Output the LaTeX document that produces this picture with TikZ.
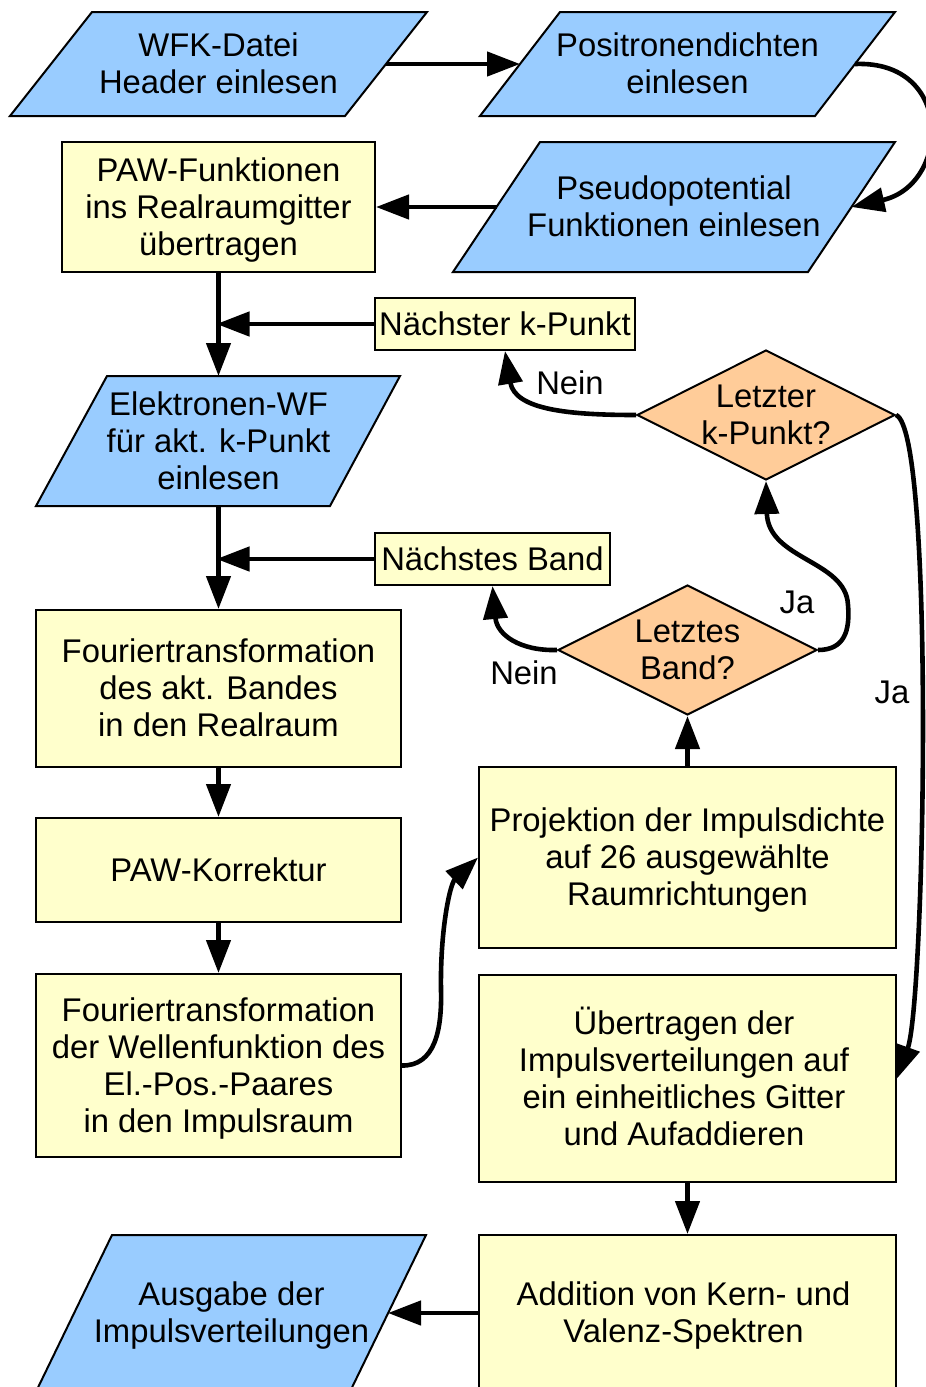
\documentclass[tikz,border=0pt]{standalone}
\usepackage{fontspec}
\setmainfont{Liberation Sans}
\usetikzlibrary{arrows.meta,shapes.geometric}
\definecolor{ioblue}{HTML}{99CCFF}
\definecolor{procyel}{HTML}{FFFFCC}
\definecolor{decora}{HTML}{FFCC99}
\newcommand\lnstrut{\rule[-0.212em]{0pt}{1.117em}}
\begin{document}
\begin{tikzpicture}[x=0.5pt,y=-0.5pt,
  txt/.style={font=\fontsize{16.4pt}{18.5pt}\selectfont, align=center, inner sep=0pt},
  iobox/.style={draw=black, line width=1pt, fill=ioblue, line join=miter},
  proc/.style={txt, draw=black, line width=1pt, fill=procyel, rectangle},
  dec/.style={draw=black, line width=1pt, fill=decora, diamond, inner sep=0pt},
  arr/.style={line width=2.3pt, -{Triangle[length=16.5pt,width=12pt]}},
]
\useasboundingbox (0,0) rectangle (926,1387);
\clip (0,0) rectangle (926,1387);
\fill[white] (0,0) rectangle (926,1387);

% input/output parallelograms
\draw[iobox] (92,12) -- (427,12) -- (345,116) -- (10,116) -- cycle;
\node[txt] (wfk) at (218.5,64) {\lnstrut WFK-Datei\\Header einlesen\lnstrut};
\coordinate (wfkE) at (386,64);

\draw[iobox] (560,12) -- (895,12) -- (815,116) -- (480,116) -- cycle;
\node[txt] (pos) at (687.5,64) {\lnstrut Positronendichten\\einlesen\lnstrut};
\coordinate (posW) at (520,64);
\coordinate (posE) at (855,64);

\draw[iobox] (540,142) -- (895,142) -- (808,272) -- (453,272) -- cycle;
\node[txt] (pse) at (674,207) {\lnstrut Pseudopotential\\Funktionen einlesen\lnstrut};
\coordinate (pseW) at (496.5,207);
\coordinate (pseE) at (851.5,207);

\draw[iobox] (107,376) -- (400,376) -- (330,506) -- (36,506) -- cycle;
\node[txt] (elek) at (218.5,441) {\lnstrut Elektronen-WF\\für akt. k-Punkt\\einlesen\lnstrut};
\coordinate (elekN) at (218.5,376);
\coordinate (elekS) at (218.5,506);

\draw[iobox] (112,1235) -- (426,1235) -- (344,1404) -- (30,1404) -- cycle;
\node[txt] (aus) at (231.5,1313) {\lnstrut Ausgabe der\\Impulsverteilungen\lnstrut};
\coordinate (ausE) at (388,1313);

% process boxes
\node[proc, minimum width=156.5pt, minimum height=65pt] (paw) at (218.5,207) {\lnstrut PAW-Funktionen\\ins Realraumgitter\\übertragen\lnstrut};
\node[proc, minimum width=130pt, minimum height=26pt] (nk) at (505,324) {\lnstrut Nächster k-Punkt};
\node[proc, minimum width=117.5pt, minimum height=26pt] (nb) at (492.5,559) {\lnstrut Nächstes Band};
\node[proc, minimum width=182.5pt, minimum height=78.5pt] (f1) at (218.5,688.5) {\lnstrut Fouriertransformation\\des akt. Bandes\\in den Realraum\lnstrut};
\node[proc, minimum width=182.5pt, minimum height=52pt] (pk) at (218.5,870) {\lnstrut PAW-Korrektur};
\node[proc, minimum width=182.5pt, minimum height=91.5pt] (f2) at (218.5,1065.5) {\lnstrut Fouriertransformation\\der Wellenfunktion des\\El.-Pos.-Paares\\in den Impulsraum\lnstrut};
\node[proc, minimum width=208.5pt, minimum height=90.5pt] (proj) at (687.5,857.5) {\lnstrut Projektion der Impulsdichte\\auf 26 ausgewählte\\Raumrichtungen\lnstrut};
\node[proc, minimum width=208.5pt, minimum height=103.5pt] (ueb) at (687.5,1078.5) {};
\node[txt] (uebt) at (684,1078.5) {\lnstrut Übertragen der\\Impulsverteilungen auf\\ein einheitliches Gitter\\und Aufaddieren\lnstrut};
\node[proc, minimum width=208.5pt, minimum height=78pt] (add) at (687.5,1313) {};
\node[txt] (addt) at (683.5,1313) {\lnstrut Addition von Kern- und\\Valenz-Spektren\lnstrut};

% decisions
\node[dec, minimum width=129pt, minimum height=65pt] (lk) at (766,415) {};
\node[txt] (lkt) at (766,415) {\lnstrut Letzter\\k-Punkt?\lnstrut};
\node[dec, minimum width=129.5pt, minimum height=65pt] (lb) at (687.5,650) {};
\node[txt] (lbt) at (687.5,650) {\lnstrut Letztes\\Band?\lnstrut};

% connectors
\draw[arr] (wfkE) -- (posW);
\draw[arr] (posE) .. controls (955,60) and (950,185) .. (pseE);
\draw[arr] (pseW) -- (paw.east);
\draw[arr] (paw.south) -- (elekN);
\draw[arr, shorten >=-1pt] (nk.west) -- (nk.west -| paw.south);
\draw[arr] (elekS) -- (f1.north);
\draw[arr, shorten >=-1pt] (nb.west) -- (nb.west -| f1.north);
\draw[arr] (f1.south) -- (pk.north);
\draw[arr] (pk.south) -- (f2.north);
\draw[arr] (f2.east) .. controls (435,1066) and (442,1030) .. (441,990) .. controls (440,930) and (450,884) .. (proj.west);
\draw[arr] (proj.north) -- (lb.south);
\draw[arr] (lb.west) .. controls (520,651) and (497,635) .. (nb.south);
\draw[arr] (lb.east) .. controls (845,650) and (850,630) .. (848,605) .. controls (846,560) and (768,560) .. (lk.south);
\draw[arr] (lk.west) .. controls (570,415) and (515,410) .. (nk.south);
\draw[arr] (lk.east) .. controls (935,430) and (925,1000) .. (ueb.east);
\draw[arr] (ueb.south) -- (add.north);
\draw[arr] (add.west) -- (ausE);

% labels
\node[txt] (nein1) at (570,383) {\lnstrut Nein};
\node[txt] (ja1) at (797,602) {\lnstrut Ja};
\node[txt] (nein2) at (524,673) {\lnstrut Nein};
\node[txt] (ja2) at (892,692) {\lnstrut Ja};
\end{tikzpicture}
\end{document}
